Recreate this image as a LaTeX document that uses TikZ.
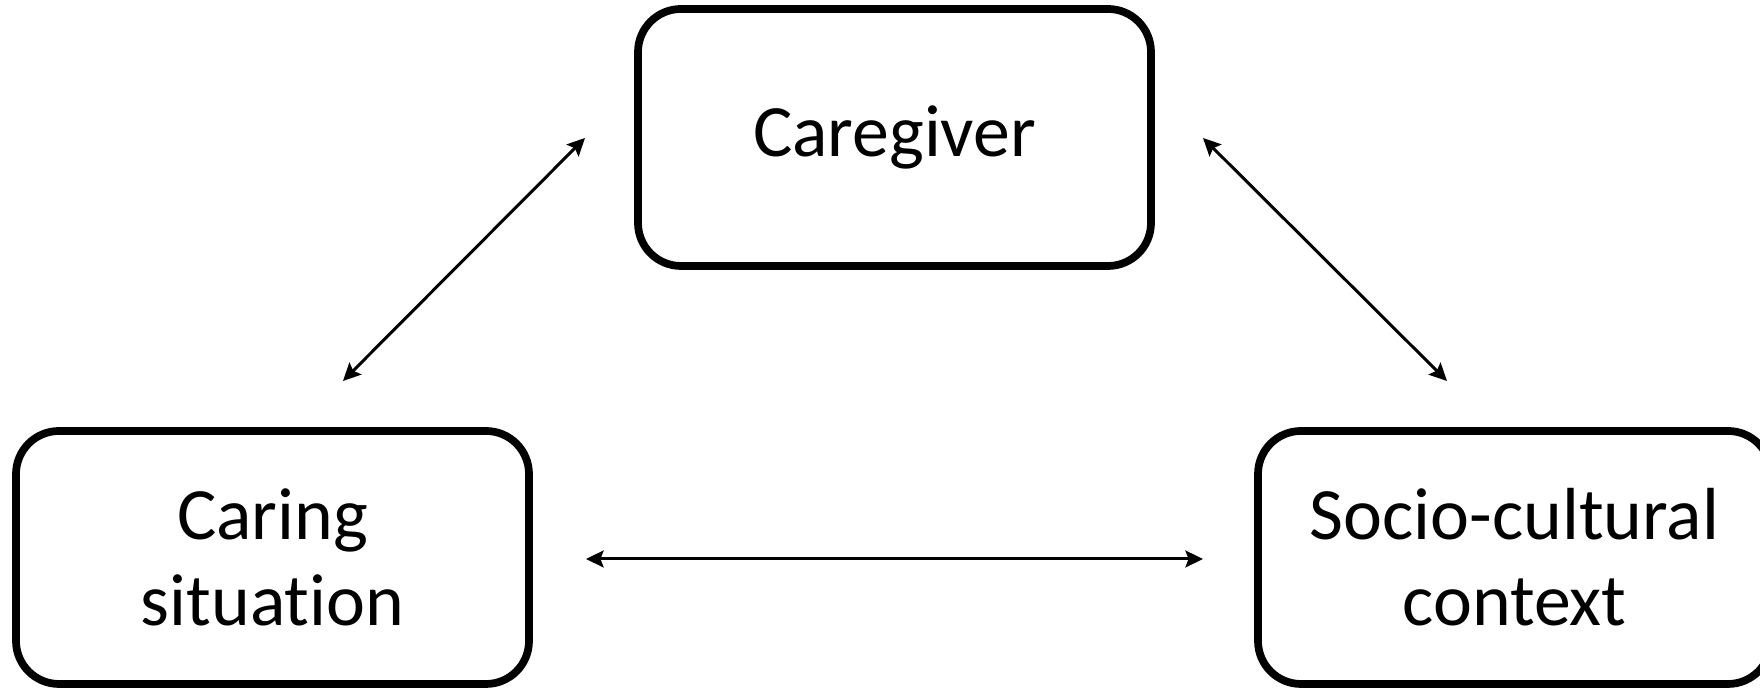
\documentclass[tikz,border=0pt]{standalone}
\usepackage{fontspec}
\setmainfont{Carlito}[Ligatures=NoCommon]
\usetikzlibrary{arrows.meta}
\tikzset{
	box/.style={
			draw, line width=2.2pt, rounded corners=0.43cm,
			minimum width=5.13cm, minimum height=2.53cm,
			align=center, font=\fontsize{21}{24.5}\selectfont
		},
	link/.style={
			{Stealth[length=5pt,width=4.8pt,inset=0.9pt]}-{Stealth[length=5pt,width=4.8pt,inset=0.9pt]},
			line width=0.85pt
		}
}

\begin{document}
\begin{tikzpicture}
			\useasboundingbox (0,0) rectangle (17.6,6.88);
			\clip (0,0) rectangle (17.6,6.88);
			% Draw the three boxes
			\node[box, minimum height=2.57cm] (caregiver) at (8.945,5.505) {Caregiver};
			\node[box] (situation) at (2.725,1.305) {Caring\\situation};
			\node[box] (context) at (15.145,1.305) {Socio-cultural\\context};
			% Arrow ends
			\coordinate (sitTop) at (3.43,3.07);
			\coordinate (cgLeft) at (5.85,5.50);
			\coordinate (cgRight) at (12.03,5.50);
			\coordinate (ctxTop) at (14.47,3.07);
			\coordinate (sitRight) at (5.86,1.29);
			\coordinate (ctxLeft) at (12.03,1.29);
			% Two-way links
			\draw[link] (sitTop) -- (cgLeft);
			\draw[link] (cgRight) -- (ctxTop);
			\draw[link] (sitRight) -- (ctxLeft);
		\end{tikzpicture}
\end{document}
